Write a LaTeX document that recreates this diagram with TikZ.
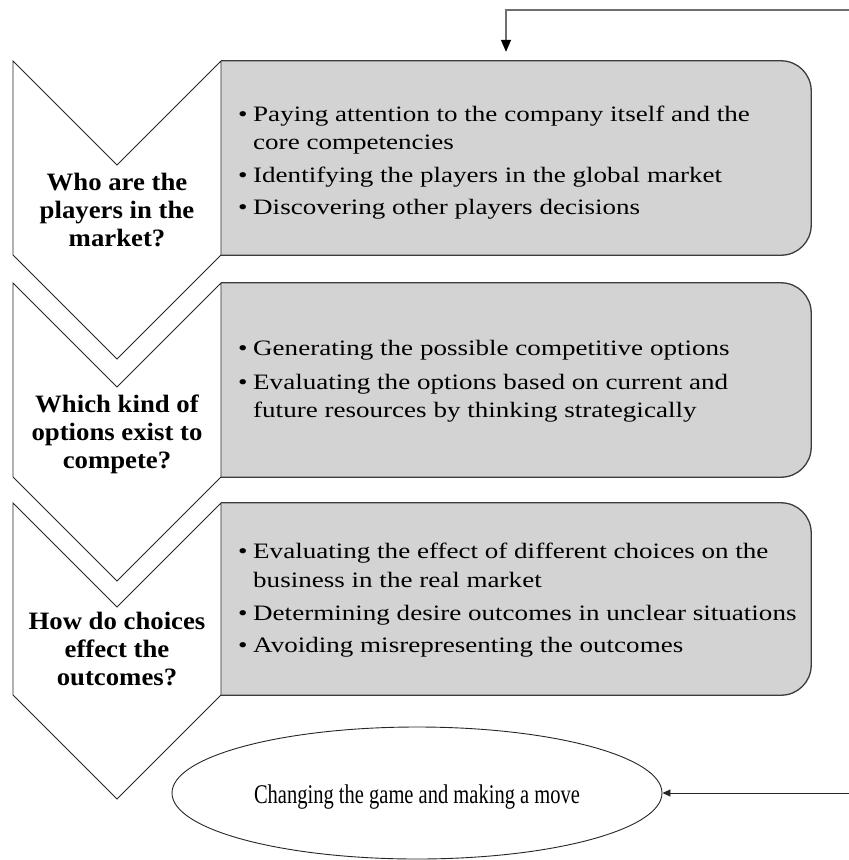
\documentclass[tikz,border=0pt]{standalone}
\usepackage{fontspec}
\setmainfont{Liberation Serif}
\newfontfamily\qfont[FakeStretch=1.07]{Liberation Serif}
\newfontfamily\itemfont[FakeStretch=1.23]{Liberation Serif}
\newfontfamily\ovalfont[FakeStretch=0.76]{Liberation Serif}
\usetikzlibrary{arrows.meta,shapes.geometric,backgrounds}

\definecolor{panelgray}{RGB}{211,211,211}
\definecolor{panelline}{RGB}{60,60,60}
\definecolor{feedgray}{RGB}{110,110,110}

\newcommand\itembullet{\makebox[15pt][l]{\textbullet}}
\newcommand\itemcont{\hspace*{15pt}}

\begin{document}
\begin{tikzpicture}[x=1pt,y=-1pt,
  chev/.style={draw=black!85, line width=0.9pt, fill=white, line join=miter},
  question/.style={align=center, inner sep=0pt,
    font=\qfont\bfseries\fontsize{25}{28}\selectfont},
  panel/.style={draw=none, inner sep=0pt, minimum width=590pt},
  panelshape/.style={fill=panelgray, draw=panelline, line width=1.3pt, rounded corners=30pt},
  points/.style={align=left, inner sep=0pt, anchor=west,
    font=\itemfont\fontsize{22}{28.5}\selectfont},
  oval/.style={ellipse, draw=black!85, line width=0.9pt, inner sep=0pt,
    minimum width=490pt, minimum height=132pt, text height=20pt, text depth=0pt,
    font=\ovalfont\fontsize{27}{30}\selectfont},
  feedline/.style={draw=feedgray, line width=1.4pt,
    -{Triangle[length=12pt,width=10pt,color=black]}},
  backline/.style={draw=black!85, line width=0.9pt,
    -{Triangle[length=8pt,width=7pt]}}
]
\useasboundingbox (0,0) rectangle (849,860);

% grey panels (the shapes are drawn behind, on the background layer)
\node[panel, minimum height=194pt] (b1) at (516,158) {};
\node[panel, minimum height=194pt] (b2) at (516,380) {};
\node[panel, minimum height=192pt] (b3) at (516,599) {};

\begin{scope}[on background layer]
  \fill[white] (0,0) rectangle (849,860);
  \begin{scope}
    \clip (221,0) rectangle (849,860);
    \foreach \p in {b1,b2,b3}
      \draw[panelshape] ([xshift=-40pt]\p.north west) rectangle (\p.south east);
  \end{scope}
\end{scope}

% downward chevrons
\foreach \t/\b in {61/255, 283/477, 503/695}
  \draw[chev] (13,\t) -- (117,{\t+104}) -- (221,\t) -- (221,\b)
              -- (117,{\b+104}) -- (13,\b) -- cycle;

% questions
\node[question] (q1) at (117,209.5) {Who are the\\players in the\\market?};
\node[question] (q2) at (117,434) {Which kind of\\options exist to\\compete?};
\node[question] (q3) at (117,649) {How do choices\\effect the\\outcomes?};

% bullet points
\node[points] (t1) at (238,162.5) {%
  \itembullet Paying attention to the company itself and the\\
  \itemcont core competencies\\[4pt]
  \itembullet Identifying the players in the global market\\[3.5pt]
  \itembullet Discovering other players decisions};
\node[points] (t2) at (238,381) {%
  \itembullet Generating the possible competitive options\\[5.5pt]
  \itembullet Evaluating the options based on current and\\
  \itemcont future resources by thinking strategically};
\node[points] (t3) at (238,600) {%
  \itembullet Evaluating the effect of different choices on the\\
  \itemcont business in the real market\\[5pt]
  \itembullet Determining desire outcomes in unclear situations\\[3pt]
  \itembullet Avoiding misrepresenting the outcomes};

% final move
\node[oval] (e) at (417,793) {Changing the game and making a move};

% feedback connectors
\coordinate (feed) at (849,10);
\coordinate (back) at (849,793);
\draw[feedline, shorten >=9pt] (feed) -| ([xshift=-10pt]b1.north);
\draw[backline] (back) -- (e.east);
\end{tikzpicture}
\end{document}
